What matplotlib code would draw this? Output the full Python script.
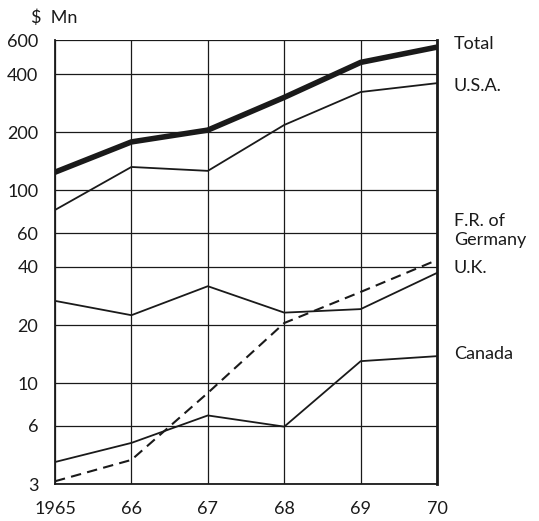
import matplotlib.pyplot as plt
import numpy as np

plt.rcParams['font.family'] = ['Lato', 'DejaVu Sans']

years = np.array([1965, 1966, 1967, 1968, 1969, 1970])
year_labels = ['1965', '66', '67', '68', '69', '70']

total = [124, 178, 205, 303, 460, 552]
usa = [79, 132, 126, 218, 323, 359]
germany = [3.1, 4.0, 8.9, 20.5, 29.7, 43.5]
uk = [26.7, 22.5, 31.8, 23.2, 24.2, 37.3]
canada = [3.9, 4.9, 6.8, 5.95, 13.0, 13.8]

yticks = [3, 6, 10, 20, 40, 60, 100, 200, 400, 600]

# names at the right edge, with the value they sit beside
names = ['Total', 'U.S.A.', 'F.R. of\nGermany', 'U.K.', 'Canada']
name_pos = [575, 345, 62, 39.5, 14.2]

fig = plt.figure(figsize=(5.39, 5.21), dpi=100)
ax = fig.add_axes([0.102, 0.071, 0.709, 0.852])

ink = '#1a1a1a'
ax.plot(years, total, color=ink, lw=4.0, solid_capstyle='butt', zorder=5)
ax.plot(years, usa, color=ink, lw=1.3, zorder=4)
ax.plot(years, uk, color=ink, lw=1.3, zorder=4)
ax.plot(years, canada, color=ink, lw=1.3, zorder=4)
ax.plot(years, germany, color=ink, lw=1.5, ls=(0, (5, 3)), zorder=4)

ax.set_yscale('log')
ax.set_ylim(3, 600)
ax.set_xlim(1965, 1970)
ax.set_yticks(yticks)
ax.set_yticklabels([str(t) for t in yticks])
ax.minorticks_off()
ax.set_xticks(years)
ax.set_xticklabels(year_labels)
ax.tick_params(length=0, labelsize=13, colors=ink)
ax.tick_params(axis='x', pad=12)
ax.tick_params(axis='y', pad=12)
ax.grid(True, color=ink, lw=0.9)

for side in ['left', 'bottom', 'right']:
    ax.spines[side].set_color(ink)
    ax.spines[side].set_linewidth(1.3)
ax.spines['right'].set_linewidth(2.0)
ax.spines['top'].set_visible(False)

for name, v in zip(names, name_pos):
    ax.annotate(name, xy=(1, v), xycoords=('axes fraction', 'data'), xytext=(12, 0),
                textcoords='offset points', fontsize=13, color=ink, va='center', ha='left')

fig.text(0.058, 0.965, '$  Mn', fontsize=13, color=ink, va='center', ha='left')

fig.savefig('out.png', dpi=100)
